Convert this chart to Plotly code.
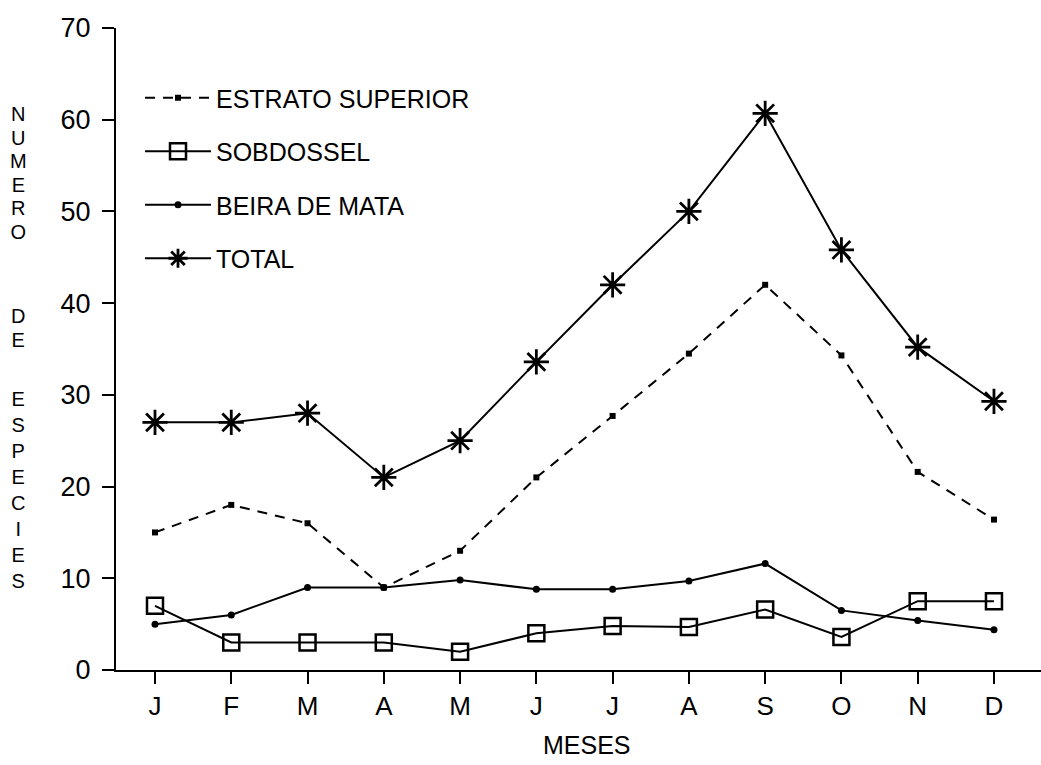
import plotly.graph_objects as go

months = ["J", "F", "M", "A", "M", "J", "J", "A", "S", "O", "N", "D"]
estrato_superior = [15, 18, 16, 9, 13, 21, 27.7, 34.5, 42, 34.3, 21.6, 16.4]
sobdossel = [7, 3, 3, 3, 2, 4, 4.8, 4.7, 6.6, 3.6, 7.5, 7.5]
beira_de_mata = [5, 6, 9, 9, 9.8, 8.8, 8.8, 9.7, 11.6, 6.5, 5.4, 4.4]
total = [27, 27, 28, 21, 25, 33.6, 42, 50, 60.7, 45.8, 35.2, 29.3]
y_ticks = [0, 10, 20, 30, 40, 50, 60, 70]

FONT = "Liberation Sans, Arial, sans-serif"
W, H = 1041, 765
ML, MR, MT, MB = 116, 0, 28, 95
x_idx = list(range(len(months)))

fig = go.Figure()
fig.add_trace(go.Scatter(
    x=x_idx, y=estrato_superior, name="ESTRATO SUPERIOR", mode="lines+markers",
    line=dict(color="black", width=2, dash="10px,8px"),
    marker=dict(symbol="square", size=6, color="black"),
    legendgroup="a"))
fig.add_trace(go.Scatter(
    x=x_idx, y=sobdossel, name="SOBDOSSEL", mode="lines+markers",
    line=dict(color="black", width=2),
    marker=dict(symbol="square-open", size=16, color="black", line=dict(width=2.5)),
    legendgroup="b"))
fig.add_trace(go.Scatter(
    x=x_idx, y=beira_de_mata, name="BEIRA DE MATA", mode="lines+markers",
    line=dict(color="black", width=2),
    marker=dict(symbol="circle", size=7, color="black"),
    legendgroup="c"))
fig.add_trace(go.Scatter(
    x=x_idx, y=total, name="TOTAL", mode="lines+markers",
    line=dict(color="black", width=2),
    marker=dict(symbol="asterisk", size=21, color="black", line=dict(width=2.8, color="black")),
    legendgroup="d"))

plot_h = H - MT - MB
plot_w = W - ML - MR
px_per_cat = 76.27
x0 = -39 / px_per_cat
x1 = x0 + plot_w / px_per_cat

fig.update_layout(
    width=W, height=H,
    margin=dict(l=ML, r=MR, t=MT, b=MB, pad=0),
    paper_bgcolor="white", plot_bgcolor="white",
    font=dict(family=FONT, size=26, color="black"),
    showlegend=True,
    legend=dict(
        x=(140 - ML) / plot_w, y=(H - MB - 75) / plot_h, xanchor="left", yanchor="top",
        bgcolor="rgba(0,0,0,0)", borderwidth=0,
        font=dict(family=FONT, size=25, color="black"),
        traceorder="grouped", tracegroupgap=18, itemwidth=66,
    ),
    xaxis=dict(
        range=[x0, x1], tickmode="array", tickvals=x_idx, ticktext=months,
        showline=True, linecolor="black", linewidth=2, mirror=False,
        ticks="outside", ticklen=12, tickwidth=2, tickcolor="black",
        showgrid=False, zeroline=False, ticklabelstandoff=0,
        tickfont=dict(family=FONT, size=26, color="black"),
    ),
    yaxis=dict(
        range=[0, 70], tickmode="array", tickvals=y_ticks,
        showline=True, linecolor="black", linewidth=2, mirror=False,
        ticks="outside", ticklen=12, tickwidth=2, tickcolor="black",
        showgrid=False, zeroline=False, ticklabelstandoff=6,
        tickfont=dict(family=FONT, size=27, color="black"),
    ),
)

def py(ypx):
    return (H - MB - ypx) / plot_h

def pxx(xpx):
    return (xpx - ML) / plot_w

# vertical stacked y-axis title: one multi-line text per word
LINE_SPACING = 1.3
segments = [("NUMERO", 114, 23.5), ("DE", 316, 23.5), ("ESPECIES", 399, 26.0)]
for word, first_center, step in segments:
    base = step / LINE_SPACING
    text = "<br>".join('<span style="font-size:20px">%s</span>' % ch for ch in word)
    mid = first_center + step * (len(word) - 1) / 2
    fig.add_annotation(
        text=text, xref="paper", yref="paper", x=pxx(18), y=py(mid),
        xanchor="center", yanchor="middle", showarrow=False, align="center",
        font=dict(family=FONT, size=base, color="black"))

fig.add_annotation(
    text="MESES", xref="paper", yref="paper", x=pxx(587), y=py(745),
    xanchor="center", yanchor="middle", showarrow=False,
    font=dict(family=FONT, size=25, color="black"))

fig.write_html("out.html")
